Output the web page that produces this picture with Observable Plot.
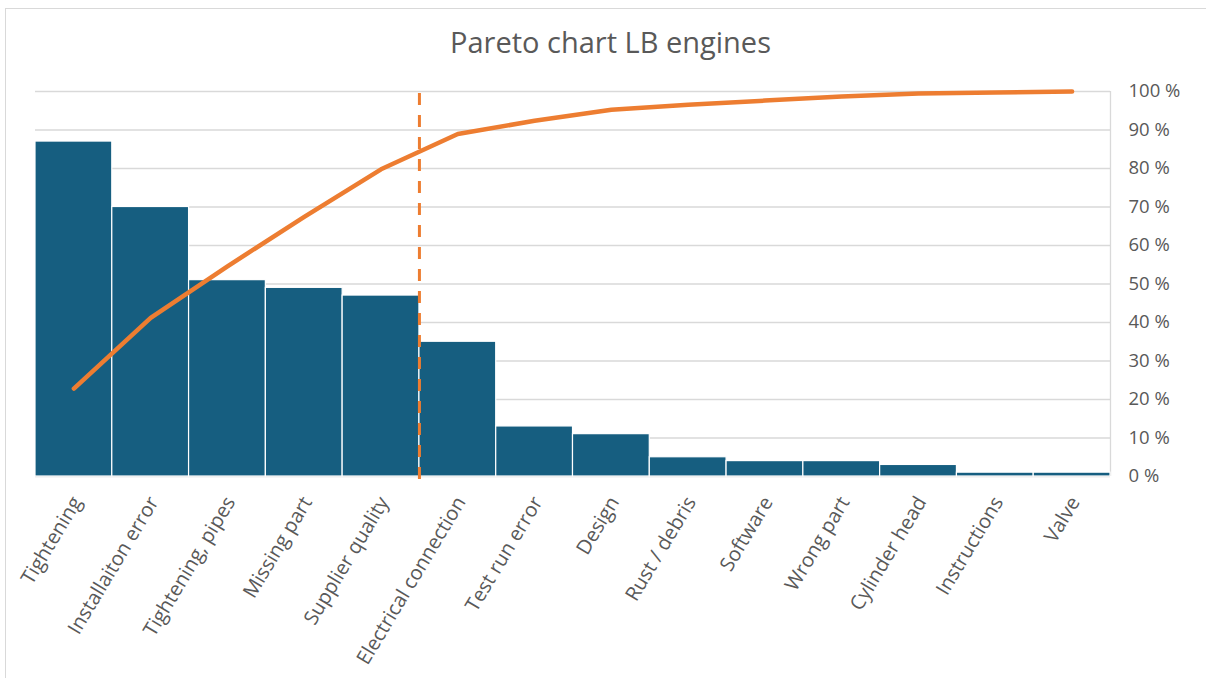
<!DOCTYPE html>
<html>
<head>
<meta charset="utf-8">
<script src="https://cdn.jsdelivr.net/npm/d3@7"></script>
<script src="https://cdn.jsdelivr.net/npm/@observablehq/plot@0.6"></script>
<style>
  html, body { margin: 0; padding: 0; background: #fff; overflow: hidden; }
  #frame {
    position: absolute; left: 5px; top: 8px; width: 1205px; height: 680px;
    border: 1px solid #d9d9d9; box-sizing: border-box; background: #fff;
  }
  #title {
    height: 68px; line-height: 66px; text-align: center; padding-left: 6px;
    font-family: "Open Sans", sans-serif; font-size: 29px; color: #595959;
  }
  #chart svg { display: block; }
</style>
</head>
<body>
<div id="frame">
  <div id="title">Pareto chart LB engines</div>
  <div id="chart"></div>
</div>
<script>
const categories = [
  "Tightening", "Installaiton error", "Tightening, pipes", "Missing part",
  "Supplier quality", "Electrical connection", "Test run error", "Design",
  "Rust / debris", "Software", "Wrong part", "Cylinder head", "Instructions", "Valve"
];
const counts = [87, 70, 51, 49, 47, 35, 13, 11, 5, 4, 4, 3, 1, 1];
const percentTicks = [0, 10, 20, 30, 40, 50, 60, 70, 80, 90, 100];
const cutoffCategory = "Electrical connection";

const total = d3.sum(counts);
let running = 0;
const data = categories.map((c, i) => {
  running += counts[i];
  return {category: c, count: counts[i], cumPct: running / total * 100};
});

const W = 1200, H = 601, mL = 29, mR = 96, mT = 14, mB = 202;
const bw = (W - mL - mR) / categories.length;

const plot = Plot.plot({
  width: W, height: H,
  marginLeft: mL, marginRight: mR, marginTop: mT, marginBottom: mB,
  style: {fontFamily: "Open Sans, sans-serif", fontSize: "17px", color: "#595959", background: "white"},
  x: {domain: categories, padding: 0, round: false, label: null},
  y: {domain: [0, 100], label: null},
  marks: [
    Plot.gridY(percentTicks, {stroke: "#d9d9d9", strokeOpacity: 1, strokeWidth: 1.3}),
    Plot.ruleX([categories[categories.length - 1]], {dx: bw / 2, y1: 0, y2: 100, stroke: "#d9d9d9", strokeWidth: 1.3}),
    Plot.barY(data, {x: "category", y: "count", fill: "#165e80", stroke: "white", strokeWidth: 1.2}),
    Plot.line(data, {x: "category", y: "cumPct", stroke: "#ed7d31", strokeWidth: 4.5, strokeLinejoin: "round"}),
    Plot.ruleX([cutoffCategory], {dx: -bw / 2, y1: 100, y2: 0, insetTop: 2, insetBottom: -11, stroke: "#ed7d31", strokeWidth: 3, strokeDasharray: "12,10"}),
    Plot.axisY(percentTicks, {anchor: "right", tickSize: 0, tickPadding: 18, tickFormat: d => d + " %", fontSize: 18.5, fill: "#595959"}),
    Plot.axisX({tickSize: 0, tickPadding: 22, tickRotate: -59, dx: 3, fontSize: 20, fill: "#595959"})
  ]
});
document.getElementById("chart").appendChild(plot);
</script>
</body>
</html>
